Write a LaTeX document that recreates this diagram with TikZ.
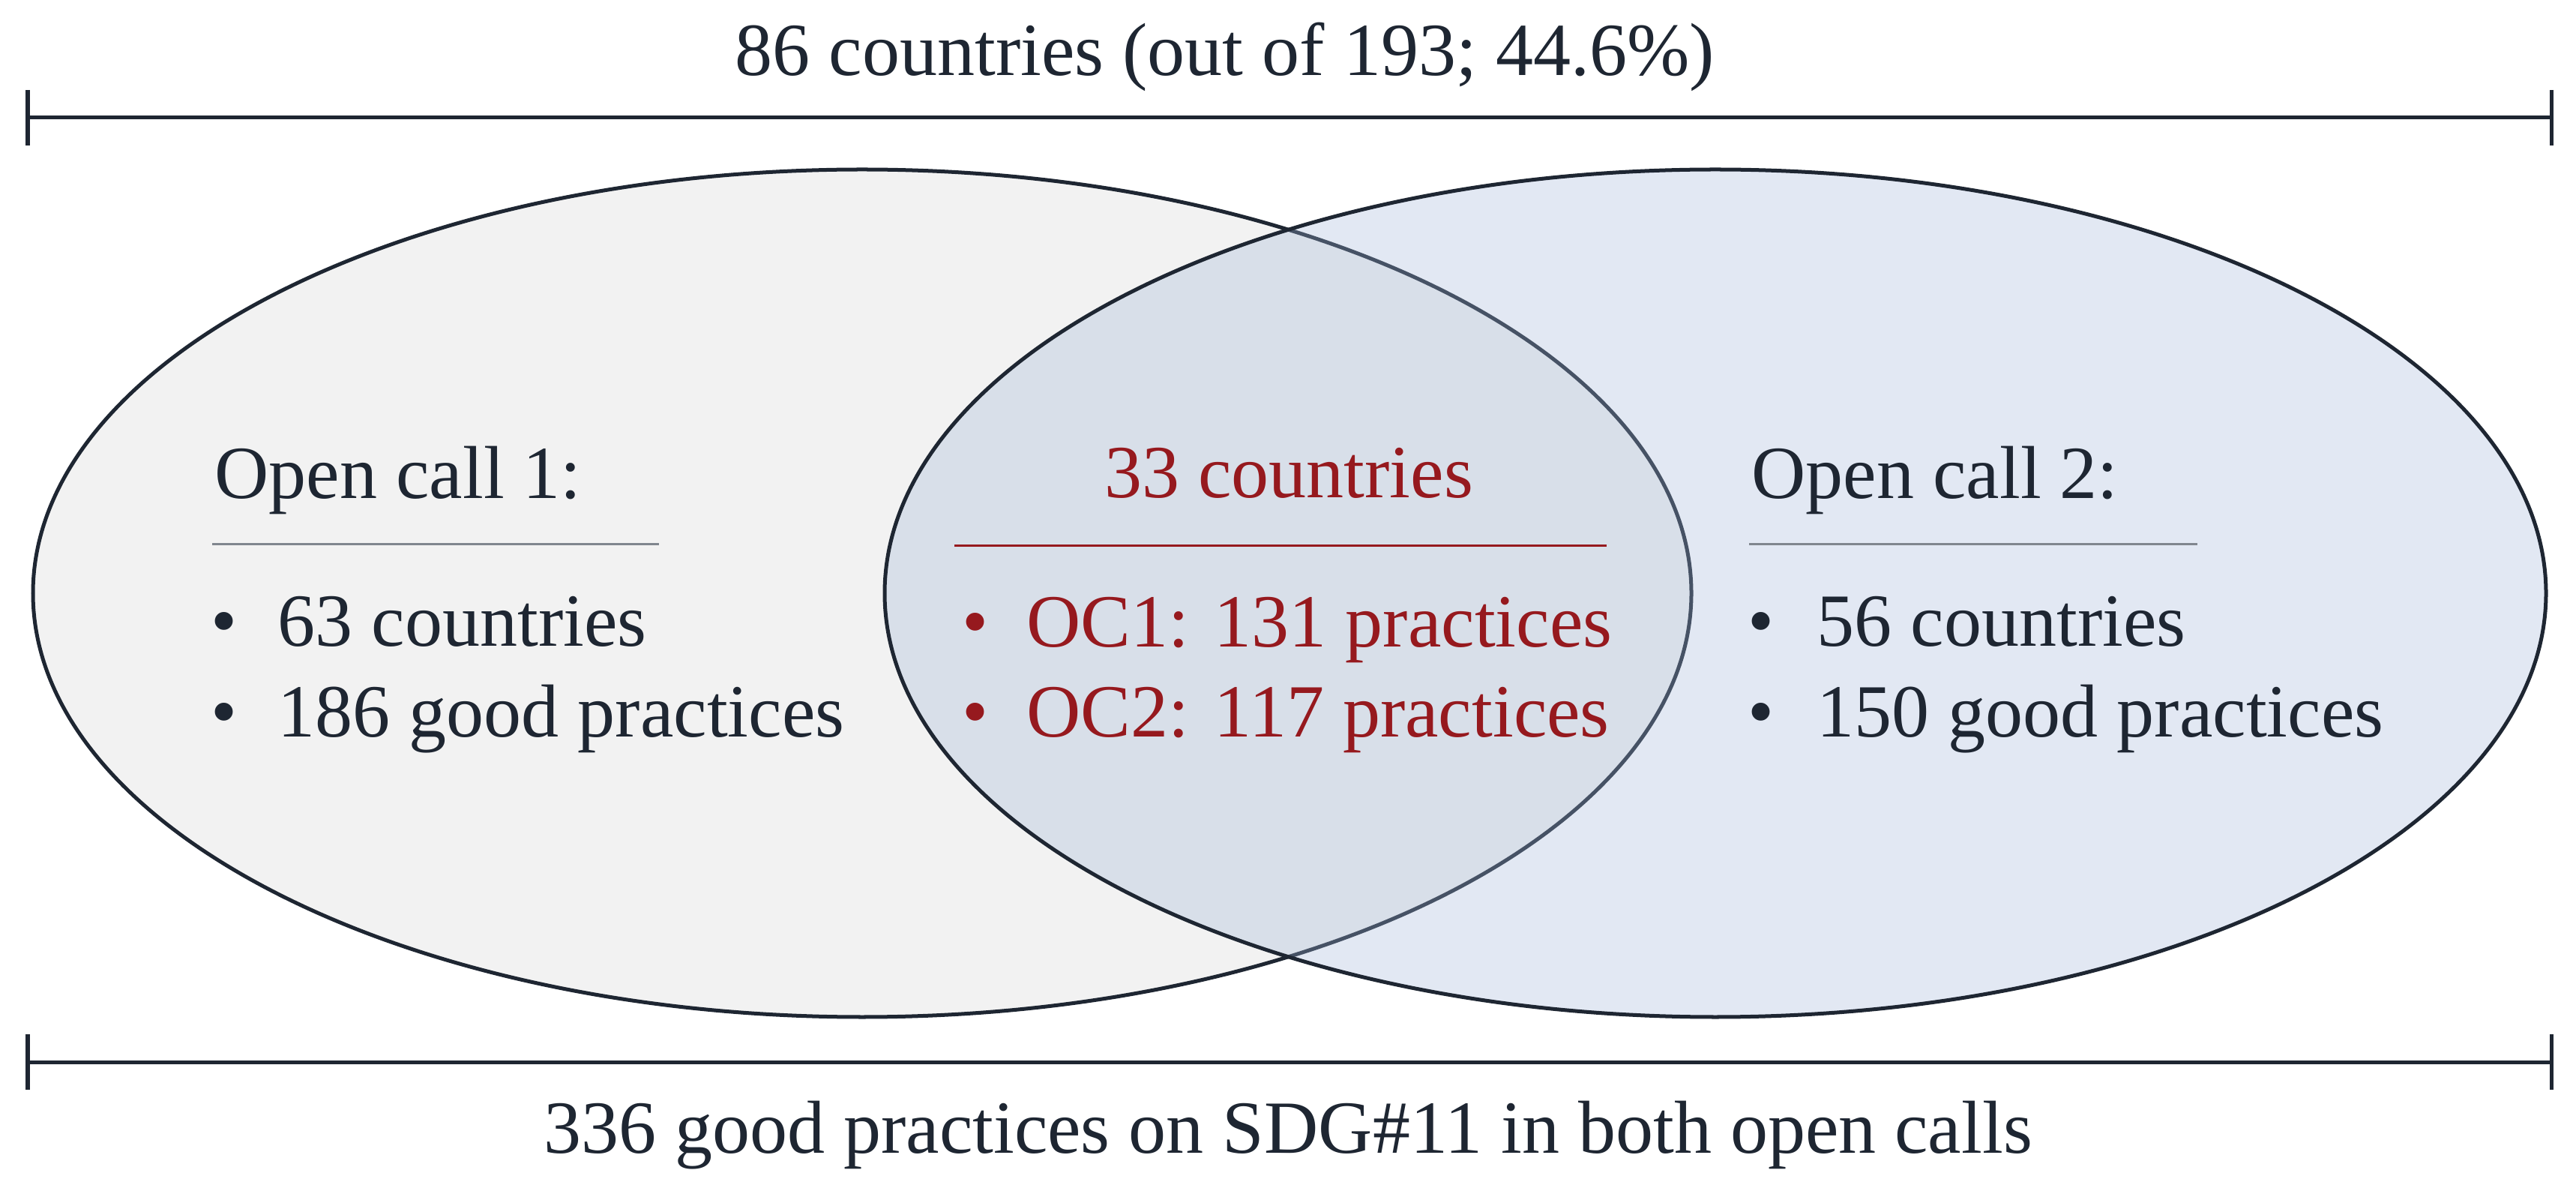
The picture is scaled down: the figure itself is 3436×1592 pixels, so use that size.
\documentclass[tikz,border=0pt]{standalone}
\usepackage{fontspec}
\setmainfont{Liberation Serif}
\definecolor{ink}{RGB}{30,38,50}
\definecolor{darkred}{RGB}{150,25,30}
\definecolor{rulegray}{RGB}{128,134,142}
\definecolor{leftfill}{RGB}{242,242,242}
\definecolor{rightfill}{RGB}{161,181,216}
\begin{document}
\begin{tikzpicture}[x=0.01cm,y=-0.01cm,
  txt/.style={inner sep=0pt, text=ink, font=\fontsize{28.45}{34}\selectfont},
  redtxt/.style={txt, text=darkred},
  barline/.style={draw=ink, line width=0.05cm},
  outline/.style={draw=ink, line width=0.05cm},
  greyrule/.style={draw=rulegray, line width=0.03cm},
  redrule/.style={draw=darkred, line width=0.03cm}]
\useasboundingbox (0,0) rectangle (3436,1592);

% ellipses
\coordinate (cl) at (1150,791);
\coordinate (cr) at (2288,791);
\path[fill=leftfill, outline] (cl) ellipse [x radius=1106, y radius=565];
\path[fill=rightfill, fill opacity=0.31] (cr) ellipse [x radius=1108, y radius=565];
\path[outline] (cr) ellipse [x radius=1108, y radius=565];

% top bar
\coordinate (tl) at (37,157);
\coordinate (tr) at (3403,157);
\draw[barline] (tl) -- (tr);
\draw[barline] (tl) ++(0,-37) -- ++(0,74);
\draw[barline] (tr) ++(0,-37) -- ++(0,74);
\node[txt, anchor=base west] (toptext) at (980,101) {86 countries (out of 193; 44.6\%)};

% bottom bar
\coordinate (bl) at (37,1416);
\coordinate (br) at (3403,1416);
\draw[barline] (bl) -- (br);
\draw[barline] (bl) ++(0,-37) -- ++(0,74);
\draw[barline] (br) ++(0,-37) -- ++(0,74);
\node[txt, anchor=base] (bottext) at (1718,1537) {336 good practices on SDG\#11 in both open calls};

% left group
\node[txt, anchor=base west] (oc1) at (286,665) {Open call 1:};
\coordinate (r1a) at (283,726);
\coordinate (r1b) at (879,726);
\draw[greyrule] (r1a) -- (r1b);
\node[txt, anchor=base] (b1a) at (299,862) {\textbullet};
\node[txt, anchor=base] (b1b) at (299,983) {\textbullet};
\node[txt, anchor=base west] (l1a) at (370,862) {63 countries};
\node[txt, anchor=base west] (l1b) at (370,983) {186 good practices};

% centre group
\node[redtxt, anchor=base] (mid) at (1719,664) {33 countries};
\coordinate (rma) at (1273,728);
\coordinate (rmb) at (2143,728);
\draw[redrule] (rma) -- (rmb);
\node[redtxt, anchor=base] (bma) at (1301,863) {\textbullet};
\node[redtxt, anchor=base] (bmb) at (1301,983) {\textbullet};
\node[redtxt, anchor=base west] (lma) at (1369,863) {OC1: 131 practices};
\node[redtxt, anchor=base west] (lmb) at (1369,983) {OC2: 117 practices};

% right group
\node[txt, anchor=base west] (oc2) at (2336,665) {Open call 2:};
\coordinate (r2a) at (2333,726);
\coordinate (r2b) at (2931,726);
\draw[greyrule] (r2a) -- (r2b);
\node[txt, anchor=base] (b2a) at (2349,862) {\textbullet};
\node[txt, anchor=base] (b2b) at (2349,983) {\textbullet};
\node[txt, anchor=base west] (l2a) at (2423,862) {56 countries};
\node[txt, anchor=base west] (l2b) at (2423,983) {150 good practices};
\end{tikzpicture}
\end{document}
